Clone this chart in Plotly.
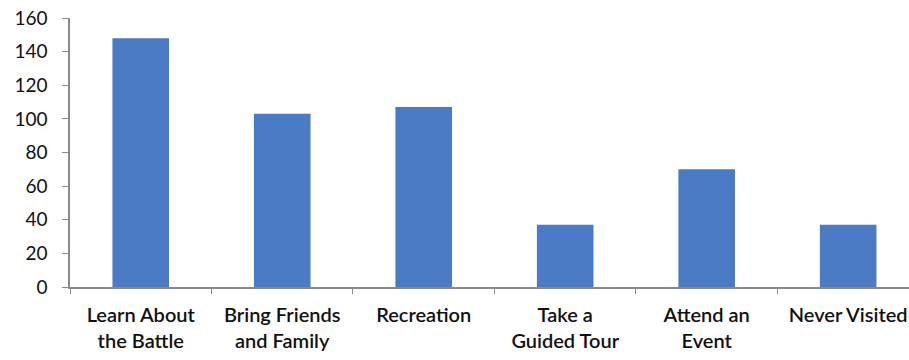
import plotly.graph_objects as go

categories = [
    "Learn About<br>the Battle",
    "Bring Friends<br>and Family",
    "Recreation",
    "Take a<br>Guided Tour",
    "Attend an<br>Event",
    "Never Visited",
]
responses = [148, 103, 107, 37, 70, 37]
y_ticks = [0, 20, 40, 60, 80, 100, 120, 140, 160]

fig = go.Figure(
    go.Bar(
        x=categories,
        y=responses,
        marker=dict(color="#4A7BC4", line=dict(width=0)),
        width=0.4,
    )
)

font_family = "Lato"

fig.update_layout(
    width=909,
    height=360,
    margin=dict(l=70, r=0, t=18, b=73),
    paper_bgcolor="white",
    plot_bgcolor="white",
    showlegend=False,
    font=dict(family=font_family, size=18, color="#111111"),
)

fig.update_xaxes(
    range=[-0.5, 5.43],
    showline=True,
    linecolor="#8a8a8a",
    linewidth=1.5,
    ticks="outside",
    tickson="boundaries",
    ticklen=5,
    tickcolor="#8a8a8a",
    showgrid=False,
    tickfont=dict(size=20, family=font_family, color="#111111", weight=600),
    ticklabelstandoff=9,
)

fig.update_yaxes(
    range=[0, 160],
    tickvals=y_ticks,
    showline=True,
    linecolor="#8a8a8a",
    linewidth=1.5,
    ticks="outside",
    ticklen=6,
    tickcolor="#8a8a8a",
    showgrid=False,
    zeroline=False,
    tickfont=dict(size=19, family=font_family, color="#111111"),
    ticklabelstandoff=11,
)

fig.write_html("out.html")
